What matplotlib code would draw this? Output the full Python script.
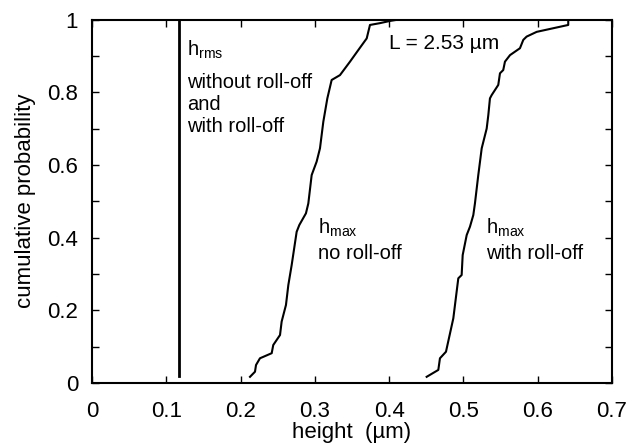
import matplotlib.pyplot as plt
from matplotlib.ticker import MultipleLocator

plt.rcParams['font.family'] = ['Liberation Sans', 'DejaVu Sans']
plt.rcParams['mathtext.fontset'] = 'custom'
plt.rcParams['mathtext.rm'] = 'Liberation Sans'
plt.rcParams['mathtext.it'] = 'Liberation Sans'

# rms height (same with and without roll-off)
h_rms = 0.117
h_rms_p = [0.02, 1.0]

# max height, no roll-off
h_no = [0.2127, 0.2194, 0.2208, 0.2261, 0.2419, 0.244, 0.2531, 0.2553, 0.2611,
        0.2643, 0.2688, 0.2755, 0.2791, 0.288, 0.2912, 0.2957, 0.3024, 0.3069,
        0.3114, 0.3168, 0.3226, 0.3338, 0.3473, 0.3585, 0.3698, 0.3742, 0.3877,
        0.401, 0.413]
p_no = [0.017, 0.031, 0.0495, 0.068, 0.082, 0.1045, 0.132, 0.169, 0.2146,
        0.2696, 0.3246, 0.416, 0.4347, 0.4668, 0.494, 0.572, 0.609, 0.6456,
        0.7189, 0.783, 0.8336, 0.847, 0.884, 0.916, 0.948, 0.985, 0.99,
        0.996, 1.0]

# max height, with roll-off
h_ro = [0.4505, 0.4662, 0.4684, 0.4765, 0.4864, 0.4931, 0.4976, 0.499, 0.5044,
        0.5088, 0.5133, 0.5155, 0.52, 0.5246, 0.5313, 0.5335, 0.5357, 0.538,
        0.5469, 0.5492, 0.5536, 0.5559, 0.5627, 0.5761, 0.5806, 0.5851, 0.5986,
        0.6411, 0.6411]
p_ro = [0.017, 0.036, 0.068, 0.086, 0.178, 0.288, 0.297, 0.352, 0.407,
        0.43, 0.462, 0.494, 0.572, 0.6456, 0.70, 0.737, 0.783, 0.792,
        0.82, 0.852, 0.861, 0.884, 0.902, 0.921, 0.944, 0.953, 0.966,
        0.985, 1.0]

x_ticks = [0, 0.1, 0.2, 0.3, 0.4, 0.5, 0.6, 0.7]
x_labels = ['0', '0.1', '0.2', '0.3', '0.4', '0.5', '0.6', '0.7']
y_ticks = [0, 0.2, 0.4, 0.6, 0.8, 1.0]
y_labels = ['0', '0.2', '0.4', '0.6', '0.8', '1']

fig = plt.figure(figsize=(6.41, 4.44), dpi=100)
ax = fig.add_axes([92 / 641, 1 - 383 / 444, 520 / 641, 363.5 / 444])

ax.plot([h_rms, h_rms], h_rms_p, color='black', lw=2.0)
ax.plot(h_no, p_no, color='black', lw=1.5)
ax.plot(h_ro, p_ro, color='black', lw=1.5)

ax.set_xlim(0, 0.7)
ax.set_ylim(0, 1)
ax.set_xticks(x_ticks)
ax.set_xticklabels(x_labels)
ax.set_yticks(y_ticks)
ax.set_yticklabels(y_labels)
ax.yaxis.set_minor_locator(MultipleLocator(0.1))
ax.tick_params(which='both', direction='in', top=True, right=True,
               labelsize=16, width=1.0, length=5)
ax.tick_params(axis='x', pad=13)
ax.tick_params(axis='y', pad=10)
for s in ax.spines.values():
    s.set_linewidth(1.5)

ax.set_xlabel('height  (µm)', fontsize=16, labelpad=0)
ax.set_ylabel('cumulative probability', fontsize=16, labelpad=8)

fs = 14.5
ax.text(0.128, 0.916, r'h$_{\mathrm{rms}}$', fontsize=fs, va='center')
ax.text(0.128, 0.828, 'without roll-off', fontsize=fs, va='center')
ax.text(0.128, 0.767, 'and', fontsize=fs, va='center')
ax.text(0.128, 0.706, 'with roll-off', fontsize=fs, va='center')
ax.text(0.40, 0.935, 'L = 2.53 µm', fontsize=15, va='center')
ax.text(0.304, 0.426, r'h$_{\mathrm{max}}$', fontsize=fs, va='center')
ax.text(0.304, 0.357, 'no roll-off', fontsize=fs, va='center')
ax.text(0.531, 0.426, r'h$_{\mathrm{max}}$', fontsize=fs, va='center')
ax.text(0.531, 0.357, 'with roll-off', fontsize=fs, va='center')

fig.savefig('out.png', dpi=100)
